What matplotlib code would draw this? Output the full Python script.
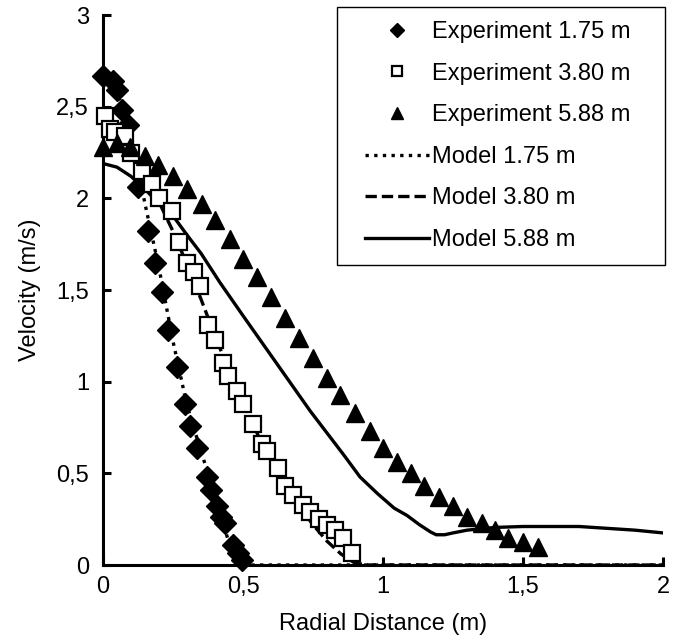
import matplotlib
matplotlib.use("Agg")
import matplotlib.pyplot as plt
from matplotlib.patches import Rectangle
from matplotlib.ticker import FixedLocator

plt.rcParams["font.family"] = ["Liberation Sans", "DejaVu Sans"]

# experiment 1.75 m (diamonds)
exp_175_x = [0, 0.036, 0.05, 0.068, 0.09, 0.125, 0.16, 0.186, 0.211, 0.232, 0.264,
             0.293, 0.31, 0.336, 0.371, 0.386, 0.407, 0.42, 0.436, 0.464, 0.482, 0.496]
exp_175_y = [2.67, 2.64, 2.59, 2.48, 2.40, 2.06, 1.82, 1.65, 1.49, 1.28, 1.08,
             0.88, 0.76, 0.64, 0.48, 0.41, 0.32, 0.26, 0.23, 0.11, 0.065, 0.03]

# experiment 3.80 m (open squares)
exp_380_x = [0.007, 0.025, 0.043, 0.079, 0.10, 0.14, 0.175, 0.2, 0.246, 0.27, 0.30,
             0.325, 0.346, 0.375, 0.40, 0.43, 0.446, 0.478, 0.50, 0.536, 0.568, 0.585,
             0.625, 0.65, 0.68, 0.714, 0.74, 0.77, 0.80, 0.83, 0.857, 0.89]
exp_380_y = [2.45, 2.38, 2.36, 2.34, 2.25, 2.15, 2.08, 2.0, 1.93, 1.76, 1.65,
             1.60, 1.52, 1.31, 1.23, 1.10, 1.03, 0.95, 0.88, 0.77, 0.66, 0.62,
             0.53, 0.43, 0.38, 0.33, 0.29, 0.25, 0.22, 0.19, 0.15, 0.065]

# experiment 5.88 m (triangles)
exp_588_x = [0, 0.05, 0.096, 0.15, 0.196, 0.25, 0.30, 0.354, 0.40, 0.454, 0.50,
             0.55, 0.60, 0.65, 0.70, 0.75, 0.80, 0.846, 0.90, 0.955, 1.0, 1.05,
             1.10, 1.146, 1.2, 1.25, 1.30, 1.354, 1.40, 1.446, 1.50, 1.554]
exp_588_y = [2.28, 2.30, 2.28, 2.23, 2.18, 2.12, 2.05, 1.97, 1.88, 1.78, 1.67,
             1.57, 1.46, 1.35, 1.24, 1.13, 1.02, 0.93, 0.83, 0.73, 0.64, 0.56,
             0.50, 0.43, 0.37, 0.32, 0.26, 0.23, 0.19, 0.15, 0.125, 0.10]

# model curves
model_175_x = [0, 0.05, 0.10, 0.13, 0.15, 0.20, 0.25, 0.30, 0.35, 0.40, 0.45, 0.50, 2.0]
model_175_y = [2.66, 2.58, 2.35, 2.12, 1.97, 1.62, 1.22, 0.87, 0.62, 0.38, 0.12, 0.0, 0.0]

model_380_x = [0, 0.05, 0.10, 0.15, 0.20, 0.25, 0.30, 0.35, 0.40, 0.45, 0.50, 0.55,
               0.60, 0.65, 0.70, 0.75, 0.80, 0.85, 0.90, 0.95, 2.0]
model_380_y = [2.38, 2.34, 2.26, 2.13, 1.98, 1.82, 1.64, 1.45, 1.25, 1.06, 0.88, 0.72,
               0.57, 0.43, 0.32, 0.22, 0.13, 0.06, 0.01, 0.0, 0.0]

model_588_x = [0, 0.05, 0.10, 0.15, 0.20, 0.257, 0.30, 0.35, 0.418, 0.50, 0.56, 0.62,
               0.68, 0.74, 0.80, 0.86, 0.918, 0.98, 1.04, 1.086, 1.13, 1.17, 1.19,
               1.22, 1.25, 1.30, 1.40, 1.50, 1.60, 1.70, 1.80, 1.90, 2.0]
model_588_y = [2.19, 2.17, 2.12, 2.05, 1.97, 1.89, 1.80, 1.70, 1.54, 1.36, 1.23, 1.10,
               0.97, 0.84, 0.72, 0.60, 0.48, 0.39, 0.31, 0.27, 0.22, 0.18, 0.165,
               0.165, 0.175, 0.19, 0.205, 0.21, 0.21, 0.21, 0.20, 0.19, 0.175]

x_ticks = [0, 0.5, 1, 1.5, 2]
x_tick_labels = ["0", "0,5", "1", "1,5", "2"]
y_ticks = [0, 0.5, 1, 1.5, 2, 2.5, 3]
y_tick_labels = ["0", "0,5", "1", "1,5", "2", "2,5", "3"]

W, H = 680, 641
fig = plt.figure(figsize=(W / 100, H / 100), dpi=100)
ax = fig.add_axes([103 / W, 1 - 565 / H, 560 / W, 550 / H])

ax.plot(model_175_x, model_175_y, color="black", lw=2.4, ls=(0, (1, 1.6)),
        label="Model 1.75 m", zorder=2)
ax.plot(model_380_x, model_380_y, color="black", lw=2.4, ls=(0, (3.4, 1.5)),
        label="Model 3.80 m", zorder=2)
ax.plot(model_588_x, model_588_y, color="black", lw=2.4, ls="-",
        label="Model 5.88 m", zorder=2)

ax.plot(exp_175_x, exp_175_y, ls="none", marker="D", ms=11.5, color="black",
        label="Experiment 1.75 m", clip_on=False, zorder=3)
ax.plot(exp_380_x, exp_380_y, ls="none", marker="s", ms=12, mfc="white", mec="black",
        mew=1.6, label="Experiment 3.80 m", clip_on=False, zorder=3)
ax.plot(exp_588_x, exp_588_y, ls="none", marker="^", ms=13, color="black",
        label="Experiment 5.88 m", clip_on=False, zorder=3)

ax.set_xlim(0, 2)
ax.set_ylim(0, 3)
ax.xaxis.set_major_locator(FixedLocator(x_ticks))
ax.yaxis.set_major_locator(FixedLocator(y_ticks))
ax.set_xticklabels(x_tick_labels)
ax.set_yticklabels(y_tick_labels)

for side in ("top", "right"):
    ax.spines[side].set_visible(False)
for side in ("left", "bottom"):
    ax.spines[side].set_linewidth(2.2)
ax.tick_params(direction="in", length=6, width=2.2, labelsize=17)
ax.tick_params(axis="x", pad=8)
ax.tick_params(axis="y", pad=10)

ax.set_xlabel("Radial Distance (m)", fontsize=17, labelpad=11)
ax.set_ylabel("Velocity (m/s)", fontsize=17, labelpad=11)

# legend box drawn separately so padding can differ horizontally / vertically
fig.patches.append(Rectangle((337 / W, 1 - 265 / H), 328 / W, 258 / H,
                             transform=fig.transFigure, fill=False,
                             edgecolor="black", lw=1.0))

handles, labels = ax.get_legend_handles_labels()
order = [3, 4, 5, 0, 1, 2]
fig.legend([handles[i] for i in order], [labels[i] for i in order],
           loc="upper left", bbox_to_anchor=(365 / W, 1 - 21 / H),
           bbox_transform=fig.transFigure, fontsize=17, frameon=False,
           handlelength=2.7, handletextpad=0.15, labelspacing=0.83,
           borderpad=0, borderaxespad=0, markerscale=0.65)

fig.savefig("out.png", dpi=100)
